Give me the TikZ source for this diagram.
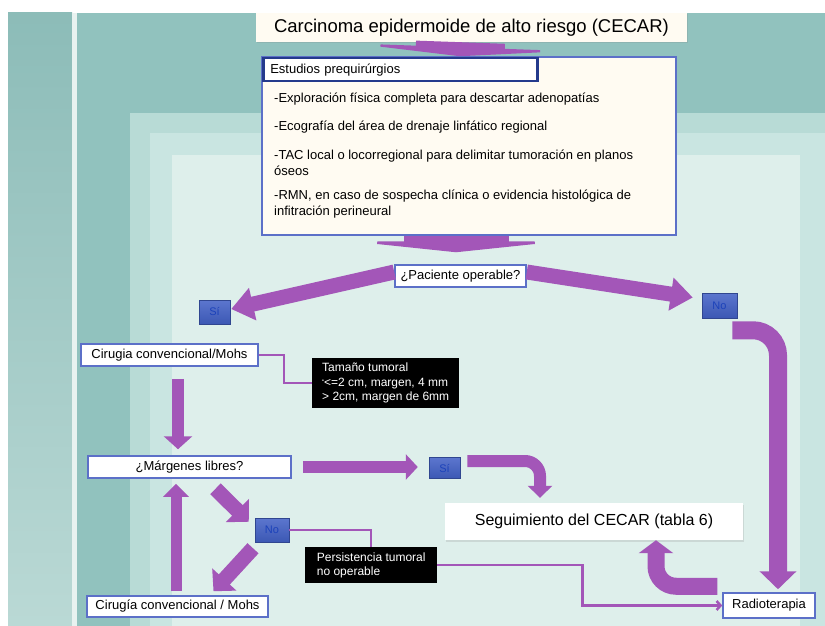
\documentclass[tikz,border=0pt]{standalone}
\usepackage{fontspec}
\setmainfont{Liberation Sans}
\usetikzlibrary{arrows.meta,shadows}
\definecolor{arrowpurple}{RGB}{163,86,184}
\definecolor{boxblue}{RGB}{92,112,200}
\definecolor{headblue}{RGB}{36,58,140}
\definecolor{tagtop}{RGB}{92,118,206}
\definecolor{tagbottom}{RGB}{60,88,180}
\definecolor{tagtext}{RGB}{28,66,186}
\definecolor{cream}{RGB}{255,251,242}
\definecolor{tealtop}{RGB}{140,188,184}
\definecolor{tealbottom}{RGB}{186,217,213}
\definecolor{tealmid}{RGB}{145,194,190}
\definecolor{linewhite}{RGB}{232,242,240}
\definecolor{panelone}{RGB}{184,219,214}
\definecolor{paneltwo}{RGB}{201,229,225}
\definecolor{panelthree}{RGB}{222,239,235}
\begin{document}
\begin{tikzpicture}[x=1pt,y=-1pt,
    every node/.style={inner sep=0pt, font=\fontsize{13}{16}\selectfont},
    whitebox/.style={draw=boxblue, line width=1.5pt, fill=white},
    tagbox/.style={top color=tagtop, bottom color=tagbottom, draw=tagbottom!80!black,
      line width=0.5pt, text=tagtext, font=\fontsize{11}{13}\selectfont},
    darkbox/.style={fill=black, text=white, font=\fontsize{12}{14.5}\selectfont,
      align=left, inner xsep=10pt, anchor=north west},
    fat/.style={draw=arrowpurple, line cap=butt},
    link/.style={draw=arrowpurple, line width=2.5pt}]
    \useasboundingbox (0,0) rectangle (825,626);
    \fill[white] (0,0) rectangle (825,626);
    \shade[top color=tealtop, bottom color=tealbottom] (8,13) rectangle (72,626);
    \fill[tealmid] (77,13) rectangle (825,626);
    \fill[linewhite] (72,13) rectangle (77,626);
    \fill[panelone] (130,113) rectangle (825,626);
    \fill[paneltwo] (150,133) rectangle (825,626);
    \fill[panelthree] (172,155) rectangle (800,626);

    \node[fill=cream, minimum width=431pt, minimum height=29pt,
      drop shadow={opacity=0.2, shadow xshift=1pt, shadow yshift=-1.5pt},
      font=\fontsize{18.5}{20}\selectfont] (title) at (471.5,27.5)
      {Carcinoma epidermoide de alto riesgo (CECAR)};
    \node[draw=boxblue, line width=1.5pt, fill=cream, minimum width=414pt,
      minimum height=178pt] (est) at (469,146) {};
    \node[draw=headblue, line width=2.5pt, fill=white, anchor=north west,
      minimum height=23pt, text width=260pt, inner xsep=7pt, align=left]
      (esthead) at (262,57) {Estudios prequirúrgios};
    \foreach \txt/\ypos [count=\i] in {
      {-Exploración física completa para descartar adenopatías}/99,
      {-Ecografía del área de drenaje linfático regional}/127,
      {-TAC local o locorregional para delimitar tumoración en planos\\óseos}/163,
      {-RMN, en caso de sospecha clínica o evidencia histológica de\\infitración perineural}/204
    }{
      \node[anchor=west, align=left] (item\i) at (274,\ypos) {\txt};
    }

    \node[whitebox, minimum width=131pt, minimum height=22pt] (pac) at (460.5,276)
      {¿Paciente operable?};
    \node[tagbox, minimum width=31pt, minimum height=24pt] (si1) at (214.5,312) {Sí};
    \node[tagbox, minimum width=35pt, minimum height=25pt] (no1) at (719.5,305.5) {No};
    \node[whitebox, minimum width=177pt, minimum height=22pt] (cir1) at (169.5,355)
      {Cirugia convencional/Mohs};
    \node[darkbox, minimum width=144pt, minimum height=50pt] (tam) at (312,358)
      {Tamaño tumoral\\\raisebox{4pt}{\scalebox{0.45}{\textbullet}}<=2 cm, margen, 4 mm\\> 2cm, margen de 6mm};
    \node[whitebox, minimum width=203pt, minimum height=22pt] (marg) at (189.5,467)
      {¿Márgenes libres?};
    \node[tagbox, minimum width=31pt, minimum height=21pt] (si2) at (444.5,468) {Sí};
    \node[tagbox, minimum width=34pt, minimum height=24pt] (no2) at (272,530) {No};
    \node[fill=white, minimum width=298pt, minimum height=37pt,
      drop shadow={opacity=0.2, shadow xshift=1pt, shadow yshift=-1.5pt},
      font=\fontsize{16}{18}\selectfont] (seg) at (594,521.5)
      {Seguimiento del CECAR (tabla 6)};
    \node[darkbox, minimum width=132pt, minimum height=36pt] (pers) at (305,547)
      {Persistencia tumoral\\no operable};
    \node[whitebox, minimum width=181pt, minimum height=21pt] (cir2) at (177.5,606.5)
      {Cirugía convencional / Mohs};
    \node[whitebox, minimum width=92pt, minimum height=25pt] (radio) at (769,605.5)
      {Radioterapia};

    % broad arrows
    \draw[fat, line width=89pt, -{Triangle[width=213pt,length=9pt]}]
      ([xshift=-11pt]title.south) -- ([xshift=-9pt]est.north);
    \draw[fat, line width=105pt, -{Triangle[width=210pt,length=11pt]}]
      ([xshift=-13pt]est.south) -- ([xshift=-4.5pt,yshift=12pt]pac.north);
    \draw[fat, line width=15pt, -{Triangle[width=32pt,length=22pt]}]
      ([yshift=4pt]pac.west) -- ([xshift=1pt,yshift=3pt]si1.east);
    \draw[fat, line width=15pt, -{Triangle[width=32pt,length=22pt]}]
      ([yshift=4pt]pac.east) -- ([xshift=-9pt,yshift=8pt]no1.west);
    \draw[fat, line width=18pt, rounded corners=25pt, -{Triangle[width=36pt,length=18pt]}]
      ([xshift=-5pt,yshift=-12pt]no1.south east) -| ([xshift=9pt,yshift=3pt]radio.north);
    \draw[fat, line width=12pt, -{Triangle[width=28pt,length=13pt]}]
      ([xshift=8.5pt,yshift=-12pt]cir1.south) -- ([xshift=-11.5pt,yshift=6pt]marg.north);
    \draw[fat, line width=12pt, -{Triangle[width=25pt,length=12pt]}]
      ([xshift=11pt]marg.east) -- ([xshift=-11pt,yshift=1pt]si2.west);
    \draw[fat, line width=12pt, rounded corners=15pt, -{Triangle[width=24pt,length=12pt]}]
      ([xshift=7pt,yshift=7pt]si2.east) -| ([xshift=-54pt,yshift=5pt]seg.north);
    \draw[fat, line width=15pt, -{Triangle[width=32pt,length=16pt]}]
      ([xshift=26pt,yshift=-10pt]marg.south) -- ([xshift=-6pt,yshift=-4pt]no2.north west);
    \draw[fat, line width=15pt, -{Triangle[width=32pt,length=16pt]}]
      ([xshift=-19pt,yshift=-6pt]no2.south) -- ([xshift=36pt,yshift=4pt]cir2.north);
    \draw[fat, line width=11pt, -{Triangle[width=25pt,length=13pt]}]
      ([xshift=-1.5pt,yshift=4pt]cir2.north) -- ([xshift=-13.5pt,yshift=-5pt]marg.south);
    \draw[fat, line width=17pt, rounded corners=20pt, -{Triangle[width=34pt,length=13pt]}]
      ([xshift=-5pt,yshift=6pt]radio.north west) -| ([xshift=62pt]seg.south);

    % thin links
    \draw[link] (cir1.east) -- ++(25,0) |- (tam.west);
    \draw[link] (no2.east) -| (pers.north);
    \draw[link, -{Straight Barb[length=4pt,width=9pt]}] (pers.east) -- ++(145,0) |- (radio.west);
  \end{tikzpicture}
\end{document}
